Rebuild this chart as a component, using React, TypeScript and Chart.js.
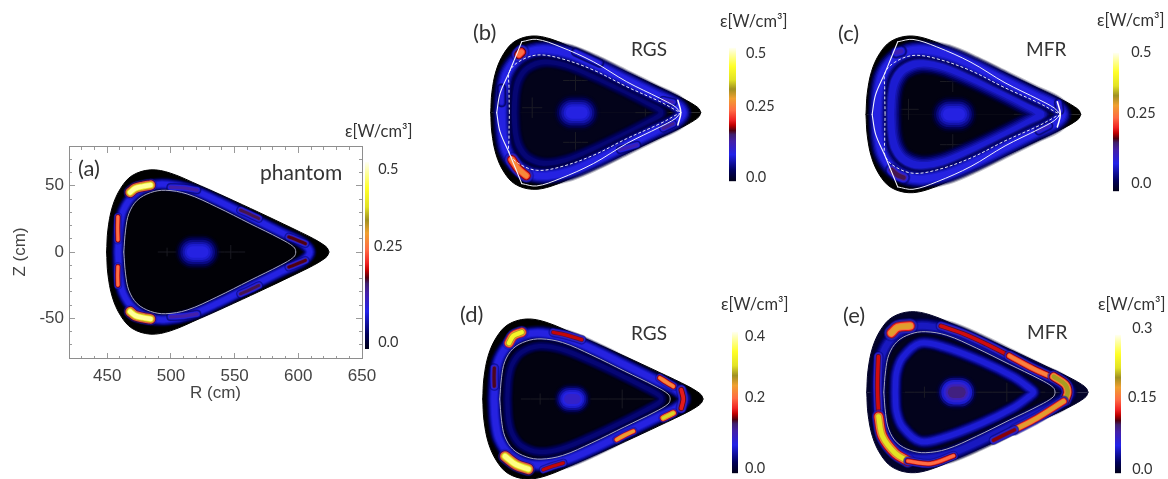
import React, { useEffect, useRef } from "react";
import { Chart, registerables } from "chart.js";

Chart.register(...registerables);

type Pt = number[];

// ---- plasma geometry, R and Z in cm (upper half; the section is up-down symmetric)
const OUTER_UPPER: Pt[] = [[449.5, 0], [450.5, 16.5], [454, 34], [460.5, 48], [469.6, 57.7], [484, 62], [499.7, 59.5], [523, 50], [549.3, 38.7], [575.5, 27], [601.6, 15], [612, 10], [619, 6], [622.8, 3], [624, 0]];
const LCFS_UPPER: Pt[] = [[463, 0], [464.4, 16.5], [467, 29], [473.5, 39], [484, 44.8], [495.7, 46.6], [512.7, 43.8], [536, 34], [562, 21.5], [586, 10], [596.4, 3.8], [598, 0]];
const BAND_UPPER: Pt[] = [[458.5, 0], [459.5, 17], [462.5, 31], [471, 43], [484, 50], [497, 51], [515, 47.5], [537, 38.5], [562, 26.5], [586, 15], [603, 7], [609, 0]];
const RING_UPPER: Pt[] = [[472, 0], [473, 15], [478, 27], [491.6, 37.8], [510, 35], [540, 24], [565, 12], [578, 3], [581, 0]];
const RING_NEAR: Pt[] = [[469, 0], [470, 16], [473, 27], [480, 36], [494, 41], [512, 38.5], [535, 29.5], [560, 18], [580, 8], [589, 3], [591, 0]];
const SEP_A: Pt[] = [[465, 0], [464.7, 21], [465, 33], [472.5, 41], [487.7, 46.6], [507, 44], [534.8, 34.5], [562.5, 21], [590.2, 8.9], [604, 1.6], [607.4, 0]];
const SEP_B: Pt[] = [[454.5, 0], [457.3, 15.6], [465, 33], [475.3, 57.4]];
const SEP_C: Pt[] = [[475.3, 57.4], [487.7, 59.3], [507, 53.4], [534.8, 41.2], [562.5, 25], [590.2, 11.6], [602.7, 4.9], [607.4, 0]];
const SEP_NOSE: Pt[] = [[605, 10], [607.5, 0], [605, -10]];

// ---- emission features: path in cm and peak emissivity in W/cm3
const HOT_A = [
  { path: [[468, 45], [472, 48], [478, 49.5], [484, 50.5]], value: 0.47 },
  { path: [[468, -45], [472, -48], [478, -49.5], [484, -50.5]], value: 0.47 },
  { path: [[458.4, 26.6], [458.2, 18], [458.4, 9]], value: 0.27 },
  { path: [[458.4, -11], [458.2, -18], [458.4, -25]], value: 0.27 },
  { path: [[499.7, 48.9], [510, 48.4], [520.6, 46.8]], value: 0.15 },
  { path: [[499.7, -48.9], [510, -48.4], [520.6, -46.8]], value: 0.15 },
  { path: [[554.6, 31.6], [562, 28.5], [569, 25.3]], value: 0.18 },
  { path: [[554.6, -31.6], [562, -28.5], [569, -25.3]], value: 0.18 },
  { path: [[592.5, 11.4], [599, 9], [605.6, 6.3]], value: 0.19 },
  { path: [[592.5, -11.4], [599, -9], [605.6, -6.3]], value: 0.19 },
];
const HOT_B = [
  { path: [[473, 47], [475, 49]], value: 0.27 },
  { path: [[467, -38], [472, -45], [479, -51]], value: 0.29 },
  { path: [[592.9, 10.2], [601, 8.5]], value: 0.14 },
  { path: [[592.9, -12.7], [601, -9]], value: 0.16 },
  { path: [[557, -30], [564, -28], [571, -26]], value: 0.14 },
  { path: [[520, 49], [540, 40]], value: 0.11 },
  { path: [[458.6, 20], [458.6, 8]], value: 0.11 },
];
const HOT_C = [
  { path: [[474, 49], [478, 50]], value: 0.14 },
  { path: [[470.4, -44], [475, -48], [480, -50]], value: 0.18 },
  { path: [[590, -13], [598, -9]], value: 0.13 },
  { path: [[606, 9], [607, 3]], value: 0.13 },
];
const HOT_D = [
  { path: [[470.3, 43.4], [473.8, 49], [480.4, 51.7]], value: 0.33 },
  { path: [[458.7, 24], [458.5, 17], [458.7, 10]], value: 0.15 },
  { path: [[505.4, 51.7], [516, 49.5], [527.9, 46]], value: 0.17 },
  { path: [[589.9, 16.3], [595, 13], [600.4, 9.8]], value: 0.23 },
  { path: [[606.8, 7.2], [608.4, 0], [606.8, -7.2]], value: 0.18 },
  { path: [[592.5, -14.7], [596, -13], [600.4, -10.9]], value: 0.3 },
  { path: [[555.6, -31.5], [562, -28], [568.8, -25]], value: 0.25 },
  { path: [[467.2, -44.4], [476, -50.9], [485.6, -54.3]], value: 0.37 },
  { path: [[497.5, -54.8], [505, -52], [513.3, -49.6]], value: 0.17 },
];
const HOT_E = [
  { path: [[508, 51], [526, 45], [544, 37], [562, 28]], value: 0.13 },
  { path: [[562, 28], [581, 18], [597, 11]], value: 0.17 },
  { path: [[597, 12], [606, 6], [608, 0], [606, -6]], value: 0.21 },
  { path: [[604.7, -7], [583.7, -20], [566, -29]], value: 0.19 },
  { path: [[566, -29], [549.5, -37]], value: 0.12 },
  { path: [[458.7, 27.5], [458, 5], [458.9, -18.8]], value: 0.13 },
  { path: [[458.9, -18.8], [462, -34], [472, -47], [482, -53]], value: 0.23 },
  { path: [[482, -53], [500, -55], [518, -49]], value: 0.16 },
  { path: [[469, 45.5], [474, 50], [483.7, 51]], value: 0.19 },
];
const HOT_A_W = [14, 14, 9, 9, 9, 9, 9, 9, 9, 9];
const HOT_B_W = [17, 16, 9, 9, 9, 10, 10];
const HOT_C_W = [13, 14, 10, 10];
const HOT_D_W = [14, 10, 10, 10, 12, 10, 9, 15, 9];
const HOT_E_W = [11, 12, 14, 12, 10, 11, 15, 10, 17];

// ---- core radiation spot: path in cm and peak emissivity
const CORE_PATH_A: Pt[] = [[517, 0], [525, 0]];
const CORE_PATH_E: Pt[] = [[518, 0], [523, 0]];
const CORE_VALUES = { a: 0.105, b: 0.105, c: 0.105, d: 0.1, e: 0.1 };

// ---- faint reconstruction texture
const STAR_A: Pt[][] = [[[537, 0], [558, 0]], [[547, -5], [547, 5]], [[497, -3], [497, 3]], [[490, 0], [504, 0]]];
const STAR_B: Pt[][] = [[[510, 26], [530, 26]], [[520, 18], [520, 34]], [[510, -24], [530, -24]], [[520, -32], [520, -16]], [[476, 4], [492, 4]], [[484, -4], [484, 12]], [[570, 0], [598, 0]], [[578, -8], [578, 8]]];
const STAR_D: Pt[][] = [[[480, 0], [510, 0]], [[495, -4], [495, 4]], [[535, 0], [590, 0]], [[560, -7], [560, 7]]];

// ---- colour scale
const CMAP_POS = [0, 0.08, 0.2, 0.3, 0.35, 0.38, 0.42, 0.46, 0.53, 0.62, 0.69, 0.76, 0.86, 0.95, 1];
const CMAP_HEX = ["#000018", "#00005c", "#2222e8", "#4420a8", "#40206c", "#500010", "#c00000", "#f02424", "#ff6a44", "#f0a030", "#a09020", "#e2e224", "#ffff28", "#ffffa8", "#fffff4"];

const BAR_TICKS_A = [0.019, 0.275, 0.481];
const BAR_TICKS_B = [0.014, 0.28, 0.479];
const BAR_TICKS_C = [0.028, 0.281, 0.5];
const BAR_TICKS_D = [0.014, 0.215, 0.386];
const BAR_TICKS_E = [0.0085, 0.165, 0.313];
const BAR_LABELS_05 = ["0.0", "0.25", "0.5"];
const BAR_LABELS_04 = ["0.0", "0.2", "0.4"];
const BAR_LABELS_03 = ["0.0", "0.15", "0.3"];

const R_TICKS_MAJOR = 50;
const Z_TICKS_MAJOR = 50;
const MINOR_STEP = 10;

const hexRgb = (h: string) => [1, 3, 5].map((i) => parseInt(h.slice(i, i + 2), 16));
function cmap(f: number, alpha = 1) {
  const t = Math.min(1, Math.max(0, f));
  let i = 0;
  while (i < CMAP_POS.length - 2 && t > CMAP_POS[i + 1]) i++;
  const u = (t - CMAP_POS[i]) / (CMAP_POS[i + 1] - CMAP_POS[i]);
  const a = hexRgb(CMAP_HEX[i]);
  const b = hexRgb(CMAP_HEX[i + 1]);
  const c = a.map((v, k) => Math.round(v + (b[k] - v) * u));
  return `rgba(${c[0]},${c[1]},${c[2]},${alpha})`;
}

const mirror = (p: Pt[]) => p.map(([r, z]) => [r, -z]);
const closed = (u: Pt[]) => [...u, ...mirror(u).reverse().slice(1)];

function stroke(path: Pt[], width: number, color: string, extra: any = {}) {
  return {
    data: path.map(([x, y]) => ({ x, y })),
    borderColor: color,
    borderWidth: width,
    pointRadius: 0,
    tension: 0.35,
    fill: false,
    borderCapStyle: "round",
    borderJoinStyle: "round",
    ...extra,
  };
}

const LAYER_FRAC = [0.12, 0.25, 0.4, 0.55, 0.7, 0.85, 1];
const LAYER_W = [1, 0.9, 0.8, 0.68, 0.56, 0.44, 0.32];
const LAYER_ALPHA = [0.25, 0.45, 0.7, 0.9, 1, 1, 1];
function glow(path: Pt[], peak: number, max: number, width: number) {
  return LAYER_FRAC.map((fr, i) => stroke(path, width * LAYER_W[i], cmap((peak / max) * fr, LAYER_ALPHA[i])));
}

type Spec = {
  max: number;
  fill: string;
  innerFill: string;
  bandValue: number;
  bandWidth: number;
  ring: Pt[];
  ringValue: number;
  ringWidth: number;
  hot: { path: number[][]; value: number }[];
  hotW: number[];
  corePath: Pt[];
  coreValue: number;
  coreWidth: number;
  stars: Pt[][];
  separatrix: boolean;
};

function buildDatasets(s: Spec) {
  const list: any[] = [];
  list.push(stroke(OUTER_UPPER, 1, s.fill, { backgroundColor: s.fill, fill: { value: 0 } }));
  list.push(stroke(mirror(OUTER_UPPER), 1, s.fill, { backgroundColor: s.fill, fill: { value: 0 } }));
  list.push(stroke(LCFS_UPPER, 0, "rgba(0,0,0,0)", { backgroundColor: s.innerFill, fill: { value: 0 } }));
  list.push(stroke(mirror(LCFS_UPPER), 0, "rgba(0,0,0,0)", { backgroundColor: s.innerFill, fill: { value: 0 } }));
  s.stars.forEach((p) => list.push(stroke(p, 0.9, "#1e1e26")));
  if (s.ringValue > 0) list.push(...glow(closed(s.ring), s.ringValue, s.max, s.ringWidth));
  list.push(...glow(closed(BAND_UPPER), s.bandValue, s.max, s.bandWidth));
  s.hot.forEach((h, i) => list.push(...glow(h.path, h.value, s.max, s.hotW[i])));
  list.push(...glow(s.corePath, s.coreValue, s.max, s.coreWidth));
  if (s.separatrix) {
    list.push(stroke(closed(SEP_A), 1, "#e8e8f4", { borderDash: [3, 2], borderCapStyle: "butt" }));
    list.push(stroke(SEP_B, 1.1, "#f4f4fc"));
    list.push(stroke(mirror(SEP_B), 1.1, "#f4f4fc"));
    list.push(stroke(SEP_C, 1, "#f0f0fa"));
    list.push(stroke(mirror(SEP_C), 1, "#f0f0fa"));
    list.push(stroke(SEP_NOSE, 1.5, "#ffffff"));
  } else {
    list.push(stroke(closed(LCFS_UPPER), 1, "#a8a8c0"));
  }
  list.forEach((d, i) => (d.order = -i));
  return list;
}

const SPEC_A: Spec = { max: 0.5, fill: "#000000", innerFill: "#010106", bandValue: 0.105, bandWidth: 15, ring: RING_NEAR, ringValue: 0, ringWidth: 0, hot: HOT_A, hotW: HOT_A_W, corePath: CORE_PATH_A, coreValue: CORE_VALUES.a, coreWidth: 36, stars: STAR_A, separatrix: false };
const SPEC_B: Spec = { max: 0.5, fill: "#000000", innerFill: "#03031a", bandValue: 0.105, bandWidth: 20, ring: RING_NEAR, ringValue: 0.05, ringWidth: 15, hot: HOT_B, hotW: HOT_B_W, corePath: CORE_PATH_A, coreValue: CORE_VALUES.b, coreWidth: 38, stars: STAR_B, separatrix: true };
const SPEC_C: Spec = { max: 0.5, fill: "#000000", innerFill: "#020210", bandValue: 0.105, bandWidth: 21, ring: RING_NEAR, ringValue: 0.09, ringWidth: 26, hot: HOT_C, hotW: HOT_C_W, corePath: CORE_PATH_A, coreValue: CORE_VALUES.c, coreWidth: 38, stars: STAR_B, separatrix: true };
const SPEC_D: Spec = { max: 0.4, fill: "#000000", innerFill: "#020210", bandValue: 0.085, bandWidth: 17, ring: RING_NEAR, ringValue: 0.04, ringWidth: 13, hot: HOT_D, hotW: HOT_D_W, corePath: CORE_PATH_E, coreValue: CORE_VALUES.d, coreWidth: 32, stars: STAR_D, separatrix: false };
const SPEC_E: Spec = { max: 0.3, fill: "#03032a", innerFill: "#03031c", bandValue: 0.05, bandWidth: 19, ring: RING_UPPER, ringValue: 0.055, ringWidth: 16, hot: HOT_E, hotW: HOT_E_W, corePath: CORE_PATH_E, coreValue: CORE_VALUES.e, coreWidth: 36, stars: STAR_D, separatrix: false };

const TICK_GREY = "#9a9a9a";
const fontAxis = { family: "'Liberation Sans', sans-serif", size: 17 };

function frameScales() {
  const s: any = {};
  const mk = (axis: string, pos: any, step: number, tl: number) => ({
    type: "linear",
    axis,
    position: pos,
    min: axis === "x" ? 420 : -80,
    max: axis === "x" ? 650 : 80,
    ticks: { display: false, stepSize: step, autoSkip: false, maxTicksLimit: 100, includeBounds: false },
    grid: { drawOnChartArea: false, drawTicks: true, tickLength: tl, color: TICK_GREY, tickColor: TICK_GREY, tickWidth: 1 },
    border: { display: true, color: "#8e8e8e", width: 1 },
  });
  s.xBm = mk("x", { y: -80 }, MINOR_STEP, -3);
  s.xBM = mk("x", { y: -80 }, R_TICKS_MAJOR, -6);
  s.xTm = mk("x", { y: 80 }, MINOR_STEP, 3);
  s.xTM = mk("x", { y: 80 }, R_TICKS_MAJOR, 6);
  s.yLm = mk("y", { x: 420 }, MINOR_STEP, -3);
  s.yLM = mk("y", { x: 420 }, Z_TICKS_MAJOR, -6);
  s.yRm = mk("y", { x: 650 }, MINOR_STEP, 3);
  s.yRM = mk("y", { x: 650 }, Z_TICKS_MAJOR, 6);
  return s;
}

function PanelA() {
  const ref = useRef<HTMLCanvasElement>(null);
  useEffect(() => {
    const chart = new Chart(ref.current!, {
      type: "line",
      data: { datasets: buildDatasets(SPEC_A) },
      options: {
        animation: false,
        responsive: false,
        devicePixelRatio: 1,
        layout: { padding: { left: 10, top: 6, right: 23, bottom: 0 } },
        plugins: { legend: { display: false }, tooltip: { enabled: false } },
        scales: {
          x: {
            type: "linear", min: 420, max: 650,
            afterFit: (s: any) => { s.height = 46; s.paddingLeft = 0; s.paddingRight = 0; },
            grid: { display: false, drawTicks: false },
            border: { display: false },
            ticks: { stepSize: R_TICKS_MAJOR, autoSkip: false, includeBounds: false, padding: 8, color: "#444", font: fontAxis, maxRotation: 0 },
            title: { display: true, text: "R (cm)", color: "#444", font: fontAxis, padding: { top: 0, bottom: 0 } },
          },
          y: {
            type: "linear", min: -80, max: 80,
            afterFit: (s: any) => { s.width = 59; s.paddingTop = 0; s.paddingBottom = 0; },
            grid: { display: false, drawTicks: false },
            border: { display: false },
            ticks: { stepSize: Z_TICKS_MAJOR, autoSkip: false, includeBounds: false, padding: 5, color: "#444", font: fontAxis },
            title: { display: true, text: "Z (cm)", color: "#444", font: fontAxis, padding: { top: 0, bottom: 0 } },
          },
          ...frameScales(),
        },
      } as any,
    });
    return () => chart.destroy();
  }, []);
  return <canvas ref={ref} width={385} height={264} style={{ position: "absolute", left: 0, top: 140, filter: "blur(0.7px)" }} />;
}

function Panel({ spec, bbox }: { spec: Spec; bbox: number[] }) {
  const ref = useRef<HTMLCanvasElement>(null);
  const [l, r, t, b] = bbox;
  const sx = (r - l) / (624 - 449.5);
  const sy = (b - t) / 124;
  const cl = Math.floor(l - 12);
  const ct = Math.floor(t - 12);
  const cw = Math.ceil(r - l + 24);
  const ch = Math.ceil(b - t + 24);
  useEffect(() => {
    const xMin = 449.5 - (l - cl) / sx;
    const yMax = 62 + (t - ct) / sy;
    const chart = new Chart(ref.current!, {
      type: "line",
      data: { datasets: buildDatasets(spec) },
      options: {
        animation: false,
        responsive: false,
        devicePixelRatio: 1,
        layout: { padding: 0 },
        plugins: { legend: { display: false }, tooltip: { enabled: false } },
        scales: {
          x: { type: "linear", display: false, min: xMin, max: xMin + cw / sx },
          y: { type: "linear", display: false, max: yMax, min: yMax - ch / sy },
        },
      } as any,
    });
    return () => chart.destroy();
  }, []);
  return <canvas ref={ref} width={cw} height={ch} style={{ position: "absolute", left: cl, top: ct, filter: "blur(0.7px)" }} />;
}

function ColorBar({ x, w, top, bottom, max, ticks, labels, pad, align }: any) {
  const ref = useRef<HTMLCanvasElement>(null);
  const headroom = 14;
  const totalW = 62;
  useEffect(() => {
    const chart = new Chart(ref.current!, {
      type: "bar",
      data: {
        labels: [""],
        datasets: [{
          data: [max],
          barPercentage: 1,
          categoryPercentage: 1,
          backgroundColor: (c: any) => {
            const area = c.chart.chartArea;
            if (!area) return "#000";
            const g = c.chart.ctx.createLinearGradient(0, area.bottom, 0, area.top);
            CMAP_POS.forEach((p, i) => g.addColorStop(p, CMAP_HEX[i]));
            return g;
          },
        }],
      },
      options: {
        animation: false,
        responsive: false,
        devicePixelRatio: 1,
        layout: { padding: { top: headroom, bottom: headroom, left: 0, right: 0 } },
        plugins: { legend: { display: false }, tooltip: { enabled: false } },
        scales: {
          x: { display: false },
          y: {
            position: "right",
            min: 0,
            max,
            afterFit: (s: any) => { s.width = totalW - w; },
            afterBuildTicks: (s: any) => { s.ticks = ticks.map((v: number) => ({ value: v })); },
            grid: { display: false, drawTicks: false },
            border: { display: false },
            ticks: {
              autoSkip: false,
              padding: pad,
              crossAlign: align,
              color: "#333",
              font: { family: "Lato, sans-serif", size: 14.5 },
              callback: (_v: any, i: number) => labels[i],
            },
          },
        },
      } as any,
    });
    return () => chart.destroy();
  }, []);
  return <canvas ref={ref} width={totalW} height={bottom - top + headroom * 2} style={{ position: "absolute", left: x, top: top - headroom }} />;
}

const TEXTS: { t: any; x: number; y: number; size: number }[] = [
  { t: "(a)", x: 78, y: 168, size: 22 },
  { t: "phantom", x: 260, y: 171, size: 21 },
  { t: "ε[W/cm³]", x: 345, y: 131, size: 16.5 },
  { t: "(b)", x: 473, y: 32, size: 22 },
  { t: "RGS", x: 631, y: 48, size: 19 },
  { t: "ε[W/cm³]", x: 720, y: 21, size: 16.5 },
  { t: "(c)", x: 838, y: 33, size: 22 },
  { t: "MFR", x: 1026, y: 48, size: 19 },
  { t: "ε[W/cm³]", x: 1097, y: 20, size: 16.5 },
  { t: "(d)", x: 460, y: 314, size: 22 },
  { t: "RGS", x: 631, y: 332, size: 19 },
  { t: "ε[W/cm³]", x: 721, y: 304, size: 16.5 },
  { t: "(e)", x: 843, y: 315, size: 22 },
  { t: "MFR", x: 1027, y: 331, size: 19 },
  { t: "ε[W/cm³]", x: 1098, y: 304, size: 16.5 },
];

export default function App() {
  return (
    <div style={{ position: "fixed", left: 0, top: 0, width: 1168, height: 479, overflow: "hidden", background: "#fff", filter: "blur(0.4px)" }}>
      <PanelA />
      <Panel spec={SPEC_B} bbox={[490.7, 700.7, 36, 189.3]} />
      <Panel spec={SPEC_C} bbox={[866, 1080.7, 36, 192.7]} />
      <Panel spec={SPEC_D} bbox={[482.7, 703, 319, 479]} />
      <Panel spec={SPEC_E} bbox={[866.7, 1088, 311.7, 472.7]} />
      <ColorBar x={365} w={4} top={162} bottom={349} max={0.5} ticks={BAR_TICKS_A} labels={BAR_LABELS_05} pad={5} align="center" />
      <ColorBar x={729} w={7} top={43} bottom={186} max={0.5} ticks={BAR_TICKS_B} labels={BAR_LABELS_05} pad={10} align="near" />
      <ColorBar x={1113} w={6} top={50} bottom={194} max={0.5} ticks={BAR_TICKS_C} labels={BAR_LABELS_05} pad={8} align="center" />
      <ColorBar x={732} w={6} top={330} bottom={475} max={0.4} ticks={BAR_TICKS_D} labels={BAR_LABELS_04} pad={7} align="near" />
      <ColorBar x={1115} w={6} top={333} bottom={475} max={0.3} ticks={BAR_TICKS_E} labels={BAR_LABELS_03} pad={7} align="center" />
      {TEXTS.map((d, i) => (
        <div key={i} style={{ position: "absolute", left: d.x, top: d.y, transform: "translateY(-50%)", fontFamily: "Lato, sans-serif", fontSize: d.size, lineHeight: 1, color: "#333", whiteSpace: "nowrap" }}>
          {d.t}
        </div>
      ))}
    </div>
  );
}
